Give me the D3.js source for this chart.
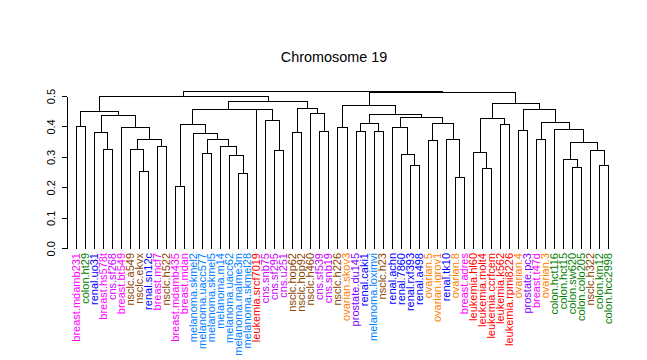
<!DOCTYPE html>
<html>
<head>
<meta charset="utf-8">
<script src="https://cdn.jsdelivr.net/npm/d3@7"></script>
<style>
  html, body { margin: 0; padding: 0; background: #fff; }
  svg { display: block; font-family: "Liberation Sans", Arial, sans-serif; }
</style>
</head>
<body>
<svg id="chart" width="647" height="360"></svg>
<script>
// ---- data ----
const title = "Chromosome 19";

const leafLabels = [
  "breast.mdamb231","colon.ht29","renal.uo31","breast.hs578t","cns.sf268","breast.bt549",
  "nsclc.a549","nsclc.ekvx","renal.sn12c","breast.mcf7","nsclc.h522","breast.mdamb435",
  "breast.mdan","melanoma.skmel2","melanoma.uacc577","melanoma.skmel5","melanoma.m14",
  "melanoma.uacc62","melanoma.malme3m","melanoma.skmel28","leukemia.srcf7019","cns.snb75",
  "cns.sf295","cns.u251","nsclc.hop62","nsclc.hop92","nsclc.h460","cns.sf539","cns.snb19",
  "nsclc.h226","ovarian.skov3","prostate.du145","renal.caki1","melanoma.loximvi","nsclc.h23",
  "renal.achn","renal.7860","renal.rxf393","renal.a498","ovarian.5","ovarian.igrov1",
  "renal.tk10","ovarian.8","breast.adres","leukemia.hl60","leukemia.molt4","leukemia.ccrfcem",
  "leukemia.k562","leukemia.rpmi8226","ovarian.4","prostate.pc3","breast.t47d","ovarian.3",
  "colon.hct116","colon.hct15","colon.sw620","colon.colo205","nsclc.h322","colon.km12",
  "colon.hcc2998"
];

// hclust-style merge table: negative = leaf -(index+1), positive = earlier merge row (1-based)
const mergeLeft  = [-12,-43,-19,-8,-46,-56,-38,-59,-55,-18,-37,-15,-45,-23,-58,-4,-7,-10,-17,9,
                    -40,17,12,-42,-52,-3,-14,-25,-28,-32,-34,-50,-54,-6,-30,-36,-1,1,-48,30,
                    21,25,-22,13,36,26,40,-27,37,-21,32,38,28,35,44,52,49,54,57];
const mergeRight = [-13,-44,-20,-9,-47,-57,-39,-60,6,3,7,-16,5,-24,8,-5,4,-11,10,15,
                    -41,18,19,2,-53,16,23,-26,-29,-33,-35,-51,20,22,-31,11,-2,27,-49,31,
                    24,33,14,39,41,34,45,29,46,43,42,50,48,47,51,53,56,55,58];
const mergeHeight = [0.204,0.233,0.246,0.253,0.263,0.266,0.272,0.272,0.292,0.305,
                     0.309,0.312,0.315,0.322,0.322,0.325,0.325,0.335,0.335,0.348,
                     0.355,0.358,0.358,0.358,0.358,0.381,0.380,0.381,0.384,0.384,
                     0.384,0.387,0.391,0.397,0.397,0.397,0.402,0.407,0.409,0.410,
                     0.410,0.414,0.420,0.427,0.432,0.437,0.440,0.443,0.451,0.456,
                     0.456,0.457,0.460,0.469,0.476,0.483,0.499,0.512,0.518];

const yTicks = [0.0, 0.1, 0.2, 0.3, 0.4, 0.5];

const groupColors = {
  breast: "#FF00FF", cns: "#CC00FF", colon: "#008000", leukemia: "#FF0000",
  melanoma: "#0080FF", nsclc: "#8B4500", ovarian: "#FF8000", prostate: "#8000FF", renal: "#0000FF"
};

// ---- drawing ----
const svg = d3.select("#chart");
const x = d3.scaleLinear().domain([0, leafLabels.length - 1]).range([75.7, 608.3]);
const y = d3.scaleLinear().domain([0, 0.5]).range([248.3, 96]);
const px = v => Math.round(v) + 0.5;

// title
svg.append("text")
  .attr("x", 334).attr("y", 62)
  .attr("text-anchor", "middle")
  .attr("font-size", 14.4)
  .attr("fill", "#000")
  .text(title);

// y axis
const yAxis = d3.axisLeft(y).tickValues(yTicks).tickFormat(d3.format(".1f"))
  .tickSize(5).tickSizeOuter(0).tickPadding(0);
const ag = svg.append("g").attr("transform", "translate(66.5,0)").call(yAxis);
ag.attr("shape-rendering", "crispEdges");
ag.select(".domain").attr("stroke", "#000").attr("stroke-width", 1);
ag.selectAll(".tick line").attr("stroke", "#000");
ag.selectAll(".tick text")
  .attr("font-size", 11)
  .attr("font-family", "Liberation Sans, Arial, sans-serif")
  .attr("fill", "#000")
  .attr("text-anchor", "middle")
  .attr("x", null)
  .attr("transform", "translate(-11.5,0) rotate(-90)")
  .attr("dy", "0");

// compute node positions
function nodeInfo(ref, nodes) {
  if (ref < 0) return { x: x(-ref - 1), h: 0 };
  return nodes[ref - 1];
}
const nodes = [];
const segs = [];
for (let i = 0; i < mergeHeight.length; i++) {
  const a = nodeInfo(mergeLeft[i], nodes);
  const b = nodeInfo(mergeRight[i], nodes);
  const h = mergeHeight[i];
  nodes.push({ x: (a.x + b.x) / 2, h: h });
  segs.push(`M${px(a.x)},${px(y(a.h))}V${px(y(h))}H${px(b.x)}V${px(y(b.h))}`);
}
svg.append("g")
  .attr("shape-rendering", "crispEdges")
  .selectAll("path")
  .data(segs)
  .join("path")
  .attr("d", d => d)
  .attr("fill", "none")
  .attr("stroke", "#000")
  .attr("stroke-width", 1);

// leaf labels
svg.append("g")
  .selectAll("text")
  .data(leafLabels)
  .join("text")
  .attr("transform", (d, i) => `translate(${x(i)},253) rotate(-90)`)
  .attr("dy", "0.35em")
  .attr("text-anchor", "end")
  .attr("font-size", 11)
  .attr("fill", d => groupColors[d.split(".")[0]])
  .text(d => d);
</script>
</body>
</html>
